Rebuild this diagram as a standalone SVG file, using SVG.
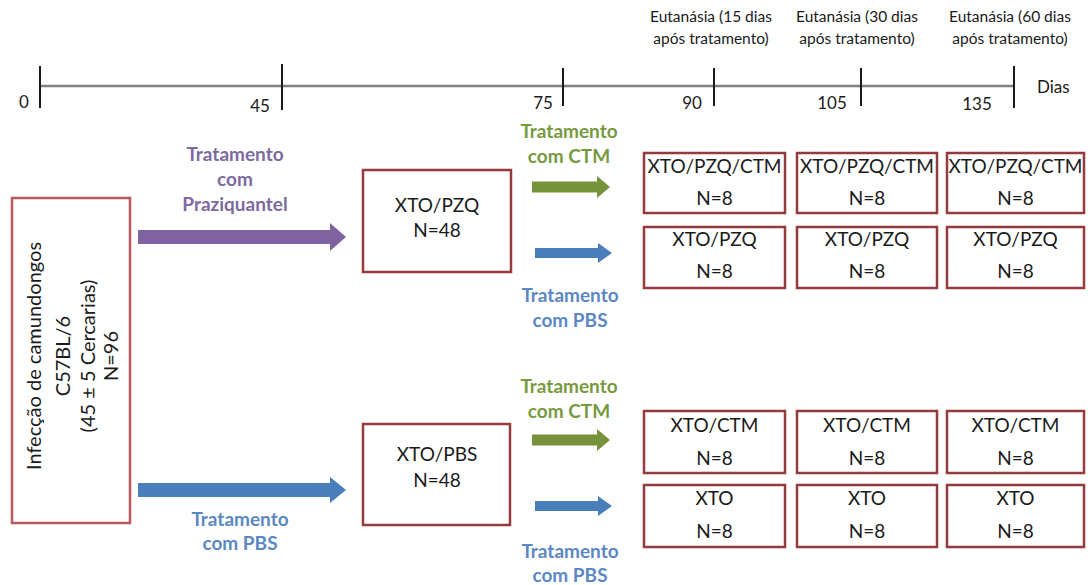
<svg xmlns="http://www.w3.org/2000/svg" width="1088" height="585" viewBox="0 0 1088 585">
<style>
text{font-family:Lato,"Open Sans","Liberation Sans",sans-serif;fill:#1a1a1a}
.num{font-size:17px}
.eu{font-size:15.5px;text-anchor:middle}
.bx{fill:#fff;stroke:#963b3d;stroke-width:2.5}
.bl{fill:#fff;stroke:#b85a5c;stroke-width:2.5}
.bt{font-size:19px;text-anchor:middle}
.lt{font-size:20px;text-anchor:middle}
.lab{font-size:19px;font-weight:bold;text-anchor:middle}
.pu{fill:#7d6a9e}
.gr{fill:#779a3e}
.blu{fill:#5a88c2}
.tick{stroke:#1a1a1a;stroke-width:2}
</style>
<rect width="1088" height="585" fill="#fff"/>
<g id="timeline">
<line x1="40" y1="86" x2="1014" y2="86" stroke="#808080" stroke-width="2.5"/>
<line class="tick" x1="40" y1="66" x2="40" y2="108"/>
<line class="tick" x1="282" y1="64" x2="282" y2="110"/>
<line class="tick" x1="563" y1="68" x2="563" y2="106"/>
<line class="tick" x1="714" y1="68" x2="714" y2="106"/>
<line class="tick" x1="861" y1="68" x2="861" y2="106"/>
<line class="tick" x1="1014" y1="66" x2="1014" y2="108"/>
<text class="num" x="24" y="108" text-anchor="middle">0</text>
<text class="num" x="260" y="112" text-anchor="middle">45</text>
<text class="num" x="543" y="109" text-anchor="middle">75</text>
<text class="num" x="692" y="109" text-anchor="middle">90</text>
<text class="num" x="832" y="109" text-anchor="middle">105</text>
<text class="num" x="977" y="110" text-anchor="middle">135</text>
<text class="num" x="1037" y="93">Dias</text>
<text class="eu" x="711" y="22">Eutanásia (15 dias</text>
<text class="eu" x="711" y="44">após tratamento)</text>
<text class="eu" x="857" y="22">Eutanásia (30 dias</text>
<text class="eu" x="857" y="44">após tratamento)</text>
<text class="eu" x="1010" y="22">Eutanásia (60 dias</text>
<text class="eu" x="1010" y="44">após tratamento)</text>
</g>
<g id="connectors">
<polygon fill="#7f63a1" points="138,230 330,230 330,223 346,237 330,251 330,244 138,244"/>
<polygon fill="#4a7ebb" points="138,483 330,483 330,477 346,490 330,503 330,497 138,497"/>
<polygon fill="#76933c" points="532,181.5 597,181.5 597,176 610,187 597,198 597,192.5 532,192.5"/>
<polygon fill="#4a7ebb" points="535,248 598,248 598,243 612,253 598,263 598,258 535,258"/>
<polygon fill="#76933c" points="532,434.5 597,434.5 597,429 610,440 597,451 597,445.5 532,445.5"/>
<polygon fill="#4a7ebb" points="535,501 598,501 598,496 612,506 598,516 598,511 535,511"/>
<text class="lab pu" x="235" y="161">Tratamento</text>
<text class="lab pu" x="235" y="186">com</text>
<text class="lab pu" x="235" y="211">Praziquantel</text>
<text class="lab blu" x="240" y="526">Tratamento</text>
<text class="lab blu" x="240" y="550">com PBS</text>
<text class="lab gr" x="569" y="138">Tratamento</text>
<text class="lab gr" x="569" y="163">com CTM</text>
<text class="lab blu" x="570" y="302">Tratamento</text>
<text class="lab blu" x="570" y="327">com PBS</text>
<text class="lab gr" x="569" y="393">Tratamento</text>
<text class="lab gr" x="569" y="418">com CTM</text>
<text class="lab blu" x="570" y="558">Tratamento</text>
<text class="lab blu" x="570" y="582">com PBS</text>
</g>
<g id="infeccao">
<rect class="bl" x="12" y="198" width="118" height="325"/>
<g transform="translate(0,356) rotate(-90)">
<text class="lt" x="0" y="41">Infecção de camundongos</text>
<text class="lt" x="0" y="70">C57BL/6</text>
<text class="lt" x="0" y="95">(45 ± 5 Cercarias)</text>
<text class="lt" x="0" y="118">N=96</text>
</g>
</g>
<g id="xto-pzq">
<rect class="bx" x="363" y="170" width="148" height="102"/>
<text class="bt" x="437" y="212">XTO/PZQ</text>
<text class="bt" x="437" y="237">N=48</text>
</g>
<g id="xto-pbs">
<rect class="bx" x="363" y="424" width="147" height="101"/>
<text class="bt" x="437" y="461">XTO/PBS</text>
<text class="bt" x="437" y="487">N=48</text>
</g>
<g id="pzq-ctm-15">
<rect class="bx" x="644" y="153" width="141" height="60"/>
<text class="bt" x="714.5" y="173">XTO/PZQ/CTM</text>
<text class="bt" x="714.5" y="205">N=8</text>
</g>
<g id="pzq-ctm-30">
<rect class="bx" x="797" y="153" width="140" height="60"/>
<text class="bt" x="867" y="173">XTO/PZQ/CTM</text>
<text class="bt" x="867" y="205">N=8</text>
</g>
<g id="pzq-ctm-60">
<rect class="bx" x="947" y="153" width="137" height="60"/>
<text class="bt" x="1015.5" y="173">XTO/PZQ/CTM</text>
<text class="bt" x="1015.5" y="205">N=8</text>
</g>
<g id="pzq-15">
<rect class="bx" x="644" y="227" width="141" height="61"/>
<text class="bt" x="714.5" y="246">XTO/PZQ</text>
<text class="bt" x="714.5" y="278">N=8</text>
</g>
<g id="pzq-30">
<rect class="bx" x="797" y="227" width="140" height="61"/>
<text class="bt" x="867" y="246">XTO/PZQ</text>
<text class="bt" x="867" y="278">N=8</text>
</g>
<g id="pzq-60">
<rect class="bx" x="947" y="227" width="137" height="61"/>
<text class="bt" x="1015.5" y="246">XTO/PZQ</text>
<text class="bt" x="1015.5" y="278">N=8</text>
</g>
<g id="ctm-15">
<rect class="bx" x="644" y="411" width="141" height="62"/>
<text class="bt" x="714.5" y="432">XTO/CTM</text>
<text class="bt" x="714.5" y="465">N=8</text>
</g>
<g id="ctm-30">
<rect class="bx" x="797" y="411" width="140" height="62"/>
<text class="bt" x="867" y="432">XTO/CTM</text>
<text class="bt" x="867" y="465">N=8</text>
</g>
<g id="ctm-60">
<rect class="bx" x="947" y="411" width="137" height="62"/>
<text class="bt" x="1015.5" y="432">XTO/CTM</text>
<text class="bt" x="1015.5" y="465">N=8</text>
</g>
<g id="xto-15">
<rect class="bx" x="644" y="485" width="141" height="62"/>
<text class="bt" x="714.5" y="505">XTO</text>
<text class="bt" x="714.5" y="538">N=8</text>
</g>
<g id="xto-30">
<rect class="bx" x="797" y="485" width="140" height="62"/>
<text class="bt" x="867" y="505">XTO</text>
<text class="bt" x="867" y="538">N=8</text>
</g>
<g id="xto-60">
<rect class="bx" x="947" y="485" width="137" height="62"/>
<text class="bt" x="1015.5" y="505">XTO</text>
<text class="bt" x="1015.5" y="538">N=8</text>
</g>
</svg>
